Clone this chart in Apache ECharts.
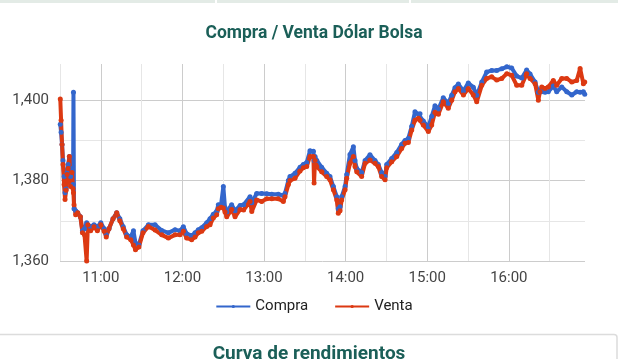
<!DOCTYPE html>
<html>
<head>
<meta charset="utf-8">
<script src="https://cdn.jsdelivr.net/npm/echarts@6/dist/echarts.min.js"></script>
<style>
html,body{margin:0;padding:0;background:#fff;}
#chart{width:628px;height:359px;}
</style>
</head>
<body>
<div id="chart"></div>
<script>
// Time in minutes since midnight
var times = [630.2,630.8,631.5,632.2,633.0,633.7,634.5,635.2,636.0,636.9,637.8,638.8,639.6,639.9,640.3,641.5,643,645,646.5,648,649.6,650.5,652.5,655,657.5,660,662.5,664,666,669,671.7,674,676.5,679,682,684,685.5,688,691,695,699.9,704.8,709.7,714.6,718.2,720.7,723.1,726.8,729.3,731.7,734.2,737.9,740.3,742.7,745.2,746.4,748.4,750.1,751.3,752.6,756.2,758.7,762.4,765,769.7,771,774.6,778.3,782,785.7,790.5,794.2,795.4,797.9,799.1,802.8,806.5,808.9,811.4,813.8,816.3,816.8,817.5,818.8,822.4,826.1,828.5,831,833.5,834.6,835.9,837.1,839.6,840.8,843.2,845.7,846.9,848.2,851.8,854.3,857.9,861.6,864,866.5,869,870.2,873.9,877.6,881.2,883.7,886.1,888.6,891,893.5,894.7,897.1,900.8,903.3,905.7,908.2,911.8,915.5,918,920.4,922.9,926.6,930.2,933.9,936.4,940.1,943.7,947.4,951.1,954.8,958.5,962.1,965.8,969.5,973.1,975.6,979.3,981.7,982.9,984.2,986.6,989,992.7,995.2,998.9,1002.6,1006.3,1009.9,1012.4,1014.8,1015.8];
var compra = [1394,1392,1389,1385,1381,1377,1378,1382,1384,1386,1381,1383,1379,1402,1373,1372.5,1372,1371,1367.5,1368,1369.5,1369,1368.5,1369,1368.5,1369.5,1368,1366.5,1368,1370.5,1372,1370.5,1368.5,1366.5,1366,1367.5,1364.5,1364,1367.5,1369,1369,1367.6,1367,1367.8,1367.5,1368.5,1366.8,1366.3,1367,1367.8,1368.3,1369.5,1370.5,1371.6,1372.4,1374,1374,1378.5,1373.3,1372.2,1374,1372.5,1373.8,1374,1376,1374.5,1376.8,1376.8,1376.7,1376.6,1376.6,1376.3,1376.8,1380,1381,1381.8,1383.3,1384,1384.5,1387.4,1387.3,1385,1386,1385,1383.3,1381.8,1381,1378.5,1376,1373,1373.5,1376,1378.5,1381.5,1386.5,1388.4,1385,1383,1382,1385,1386.4,1385,1384,1382,1381,1384,1385.5,1387,1389,1390,1390.5,1393.5,1397.1,1396.5,1396.6,1394.8,1393.3,1396,1398.6,1397.8,1400.6,1399.2,1401.2,1403.1,1404,1402.3,1404.3,1403.2,1401.2,1404.5,1407,1407.4,1407.4,1407.8,1408.3,1408,1406,1405.5,1407.5,1406.5,1404.5,1402,1402.5,1402.1,1402,1402.1,1403.5,1402.1,1403.3,1402.1,1401.3,1402.1,1402,1402.1,1401.5];
var venta = [1400.3,1395,1389,1384,1379,1375.3,1377.6,1381.5,1383,1386,1378.5,1382,1378,1377,1374,1371.5,1372,1371,1367,1366.5,1360,1369,1367.5,1368.5,1367.5,1369,1367.4,1366,1368,1370.5,1372,1370,1368,1366,1365.3,1364,1362.8,1363.5,1367,1368.6,1367.7,1366.5,1365.7,1366.5,1366.5,1367.4,1365.7,1365.3,1366,1367,1367.4,1368.6,1369,1370.7,1371.5,1373,1373.4,1373.2,1372.2,1371,1372.8,1371,1372.8,1372.7,1374.8,1372.3,1375.2,1374.8,1375.5,1375.5,1375.5,1374.8,1376,1379,1380,1380.6,1382.4,1383.2,1383.5,1386,1386,1379.4,1385,1383.5,1382.2,1381,1380.2,1377.7,1375.2,1371.9,1372.5,1375.2,1377.7,1380.6,1384.3,1386,1383.5,1382.2,1381,1384.3,1385.1,1384.3,1383.5,1381,1380.2,1383.2,1384.7,1386,1388,1389.3,1389.5,1392.6,1395,1395.5,1395,1393.8,1392.2,1393.8,1397,1396.5,1399.6,1398,1400,1402.1,1402.9,1401.3,1402.9,1401.3,1399.6,1403.7,1405.4,1405.8,1405,1405.4,1406.6,1406.2,1403.7,1403.7,1406.6,1405.4,1404.1,1400,1402.1,1403.3,1402.9,1403.3,1404.9,1403.7,1405.4,1405.4,1404.5,1404.9,1407.9,1404.1,1404.5];
var yTicks = [1360, 1380, 1400];
var xTickHours = [11, 12, 13, 14, 15, 16];
var seriesNames = ['Compra', 'Venta'];

function pairs(vals){ return times.map(function(t,i){ return [t, vals[i]]; }); }

var chart = echarts.init(document.getElementById('chart'), null, {renderer:'canvas'});
var teal = '#1b5f58';
chart.setOption({
  animation: false,
  backgroundColor: '#ffffff',
  textStyle: {fontFamily: 'Roboto'},
  title: {
    text: 'Compra / Venta Dólar Bolsa',
    left: 'center', top: 20,
    textStyle: {fontFamily: 'Roboto', fontWeight: 'bold', fontSize: 17.5, color: teal}
  },
  legend: {
    data: seriesNames,
    top: 294, left: 'center',
    itemWidth: 34, itemHeight: 4, itemGap: 26,
    textStyle: {fontFamily: 'Roboto', fontSize: 15, color: '#222'}
  },
  grid: {left: 60, right: 43, top: 64, bottom: 98, containLabel: false},
  xAxis: {
    type: 'value', min: 630, max: 1016, interval: 30,
    axisLine: {show: false}, axisTick: {show: false},
    axisLabel: {
      margin: 10, fontFamily: 'Roboto', fontSize: 15, color: '#444',
      formatter: function(v){
        if (v % 60 !== 0) return '';
        var h = v / 60;
        return xTickHours.indexOf(h) >= 0 ? (h + ':00') : '';
      }
    },
    splitLine: {show: true, showMaxLine: false, lineStyle: {color: ['#e6e6e6', '#cccccc'], width: 1}}
  },
  yAxis: {
    type: 'value', min: 1360, max: 1409, interval: 10,
    axisLine: {show: false}, axisTick: {show: false},
    axisLabel: {
      margin: 11, fontFamily: 'Roboto', fontSize: 15, color: '#444',
      formatter: function(v){
        return yTicks.indexOf(v) >= 0 ? (Math.floor(v/1000) + ',' + String(v%1000).padStart(3,'0')) : '';
      }
    },
    splitLine: {show: true, showMaxLine: false, lineStyle: {color: ['#cccccc', '#e6e6e6'], width: 1}}
  },
  series: [
    {name: seriesNames[0], type: 'line', data: pairs(compra), color: '#3366cc',
     symbol: 'circle', symbolSize: 5, showSymbol: true, lineStyle: {width: 4}},
    {name: seriesNames[1], type: 'line', data: pairs(venta), color: '#dc3912',
     symbol: 'circle', symbolSize: 5, showSymbol: true, lineStyle: {width: 4}}
  ],
  graphic: [
    {type: 'rect', shape: {x: 0, y: 0, width: 618, height: 3}, style: {fill: '#e3ebe6'}, silent: true},
    {type: 'rect', shape: {x: 215, y: 0, width: 2, height: 3}, style: {fill: '#ffffff'}, silent: true},
    {type: 'rect', shape: {x: 409, y: 0, width: 2, height: 3}, style: {fill: '#ffffff'}, silent: true},
    {type: 'rect', shape: {x: -5, y: 334.5, width: 622, height: 40, r: 3}, style: {fill: '#ffffff', stroke: '#dcdcdc', lineWidth: 1.5}, silent: true},
    {type: 'text', x: 309, y: 345, style: {text: 'Curva de rendimientos', fontFamily: 'Roboto', fontWeight: 'bold', fontSize: 19, fill: teal, textAlign: 'center', textVerticalAlign: 'top'}, silent: true}
  ]
});
</script>
</body>
</html>
